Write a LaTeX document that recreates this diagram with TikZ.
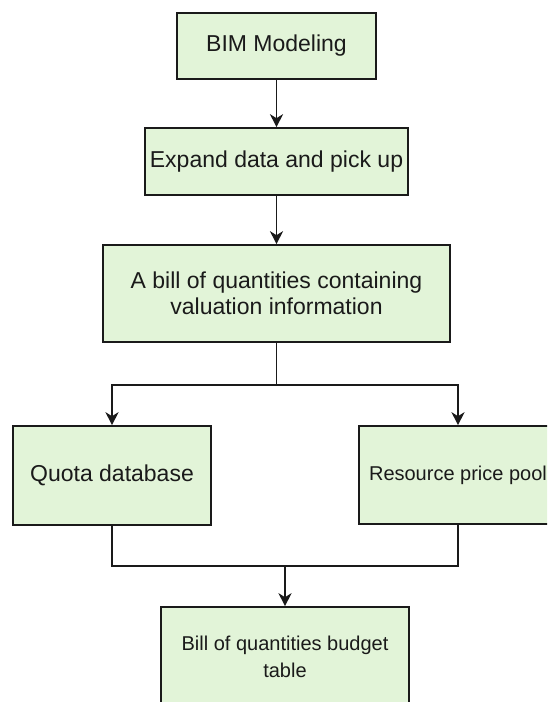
\documentclass[tikz,border=0pt]{standalone}
\usepackage{fontspec}
\setmainfont{Liberation Sans}
\usetikzlibrary{arrows.meta}
\definecolor{boxfill}{HTML}{E2F4D8}
\definecolor{ln}{HTML}{1A1A1A}
\begin{document}
\begin{tikzpicture}[x=1pt,y=-1pt,
  box/.style={draw=ln, fill=boxfill, line width=1.6pt, inner sep=0pt, align=center,
    font=\fontsize{23}{25.5}\selectfont, text=ln},
  smallbox/.style={box, font=\fontsize{20}{27}\selectfont},
  conn/.style={draw=ln, line width=1.6pt},
  arr/.style={conn, -{Stealth[length=13pt,width=13pt,inset=4pt]}}]
\useasboundingbox (0,0) rectangle (547,702);
\clip (0,0) rectangle (547,702);
\node[box, minimum width=199pt, minimum height=66pt] (bim) at (276.5,46) {BIM Modeling};
\node[box, minimum width=263pt, minimum height=67pt] (exp) at (276.5,161.5) {Expand data and pick up};
\node[box, minimum width=347pt, minimum height=97pt] (bill) at (276.5,293.5) {A bill of quantities containing\\valuation information};
\node[box, minimum width=198pt, minimum height=99pt] (quota) at (112,475.5) {Quota database};
\node[smallbox, minimum width=198pt, minimum height=98pt] (res) at (458,475) {Resource price pool};
\node[smallbox, minimum width=248pt, minimum height=100pt] (bud) at (285,657) {Bill of quantities budget\\table};
\coordinate (j1) at (276.5,385);
\coordinate (j2) at (285,566);
\draw[arr] (bim) -- (exp);
\draw[arr] (exp) -- (bill);
\draw[arr] (bill.south) -- (j1) -| (quota.north);
\draw[arr] (j1) -| (res.north);
\draw[conn] (quota.south) |- (j2) -| (res.south);
\draw[arr] (j2) -- (bud.north);
\end{tikzpicture}
\end{document}
